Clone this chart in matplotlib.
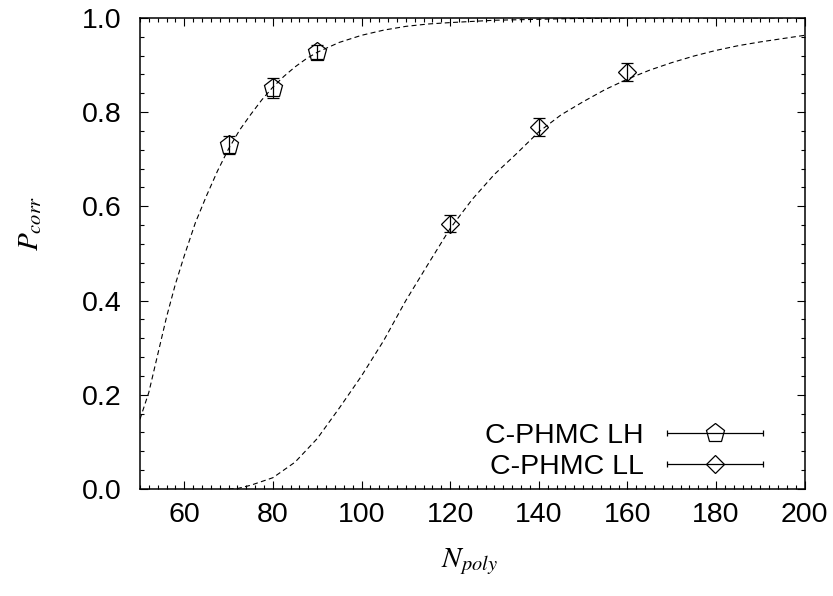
import numpy as np
import matplotlib
matplotlib.use("Agg")
import matplotlib.pyplot as plt
from matplotlib.ticker import MultipleLocator
from matplotlib.legend_handler import HandlerErrorbar

# DATA
# C-PHMC LH points
lh_n = [70, 80, 90]
lh_p = [0.730, 0.851, 0.928]
lh_err = [0.019, 0.021, 0.015]

# C-PHMC LL points
ll_n = [120, 140, 160]
ll_p = [0.563, 0.769, 0.885]
ll_err = [0.018, 0.019, 0.020]

# fitted curves
lh_fit_n = [50, 52, 54, 56, 58, 60, 62.5, 65, 67.5, 70, 72.5, 75, 77.5, 80, 82.5,
            85, 87.5, 90, 95, 100, 105, 110, 115, 120, 130, 140, 150, 165, 180, 200]
lh_fit_p = [0.148, 0.205, 0.285, 0.365, 0.435, 0.495, 0.565, 0.622, 0.675, 0.722,
            0.762, 0.795, 0.826, 0.853, 0.876, 0.896, 0.913, 0.927, 0.948, 0.963,
            0.974, 0.982, 0.987, 0.990, 0.995, 0.997, 0.999, 1.0, 1.0, 1.0]

ll_fit_n = [70, 72, 75, 80, 85, 90, 95, 100, 105, 110, 115, 120, 125, 130, 135, 140,
            145, 150, 155, 160, 165, 170, 175, 180, 185, 190, 195, 200]
ll_fit_p = [0.0, 0.001, 0.008, 0.024, 0.057, 0.107, 0.172, 0.240, 0.315, 0.400,
            0.477, 0.553, 0.615, 0.668, 0.712, 0.758, 0.794, 0.822, 0.848, 0.870,
            0.889, 0.905, 0.919, 0.931, 0.941, 0.949, 0.956, 0.963]

labels = ['C-PHMC LH', 'C-PHMC LL']

# PLOT
plt.rcParams['font.family'] = ['Liberation Sans', 'DejaVu Sans']
plt.rcParams['mathtext.fontset'] = 'stix'

fig = plt.figure(figsize=(8.33, 5.96), dpi=100)
ax = fig.add_axes([0.168, 0.1795, 0.798, 0.7905])

dash = (0, (4.5, 3))
ax.plot(lh_fit_n, lh_fit_p, color='black', lw=0.8, ls=dash)
ax.plot(ll_fit_n, ll_fit_p, color='black', lw=0.8, ls=dash)

ax.errorbar(lh_n, lh_p, yerr=lh_err, fmt='p', ms=14, mfc='none', mec='black',
            mew=0.9, ecolor='black', elinewidth=0.9, capsize=4.3, capthick=0.9)
ax.errorbar(ll_n, ll_p, yerr=ll_err, fmt='D', ms=9.5, mfc='none', mec='black',
            mew=0.9, ecolor='black', elinewidth=0.9, capsize=4.3, capthick=0.9)

# legend samples drawn gnuplot-style, with horizontal bars (nan = nothing on axes)
h1 = ax.errorbar([np.nan], [np.nan], xerr=[np.nan], fmt='p', ms=14, mfc='none',
                 mec='black', mew=0.9, ecolor='black', elinewidth=0.9,
                 capsize=2.5, capthick=0.9)
h2 = ax.errorbar([np.nan], [np.nan], xerr=[np.nan], fmt='D', ms=9.5, mfc='none',
                 mec='black', mew=0.9, ecolor='black', elinewidth=0.9,
                 capsize=2.5, capthick=0.9)

fs = 20.5
leg = ax.legend([h1, h2], labels, loc='lower right', bbox_to_anchor=(0.938, 0.02),
                frameon=False, markerfirst=False, fontsize=fs, handlelength=3.4,
                handletextpad=0.8, labelspacing=0.15, borderpad=0, borderaxespad=0,
                handler_map={type(h1): HandlerErrorbar(xerr_size=1.68)})
for t in leg.get_texts():
    t.set_ha('right')

ax.set_xlim(50, 200)
ax.set_ylim(0, 1)
ax.xaxis.set_major_locator(MultipleLocator(20))
ax.xaxis.set_minor_locator(MultipleLocator(2))
ax.yaxis.set_major_locator(MultipleLocator(0.2))
ax.yaxis.set_minor_locator(MultipleLocator(0.04))
ax.set_xticks([60, 80, 100, 120, 140, 160, 180, 200])
ax.yaxis.set_major_formatter(matplotlib.ticker.FormatStrFormatter('%.1f'))

ax.tick_params(which='both', direction='in', top=True, right=True, width=0.8)
ax.tick_params(which='major', length=6, labelsize=fs)
ax.tick_params(which='minor', length=3)
ax.tick_params(axis='x', pad=9)
ax.tick_params(axis='y', pad=13)
for s in ax.spines.values():
    s.set_linewidth(1.1)

ax.set_xlabel(r'$N_{poly}$', fontsize=21)
ax.set_ylabel(r'$P_{corr}$', fontsize=21)
ax.xaxis.set_label_coords(0.496, -0.155)
ax.xaxis.label.set_va('center')
ax.yaxis.set_label_coords(-0.165, 0.565)
ax.yaxis.label.set_va('center')

fig.savefig('out.png', dpi=100)
